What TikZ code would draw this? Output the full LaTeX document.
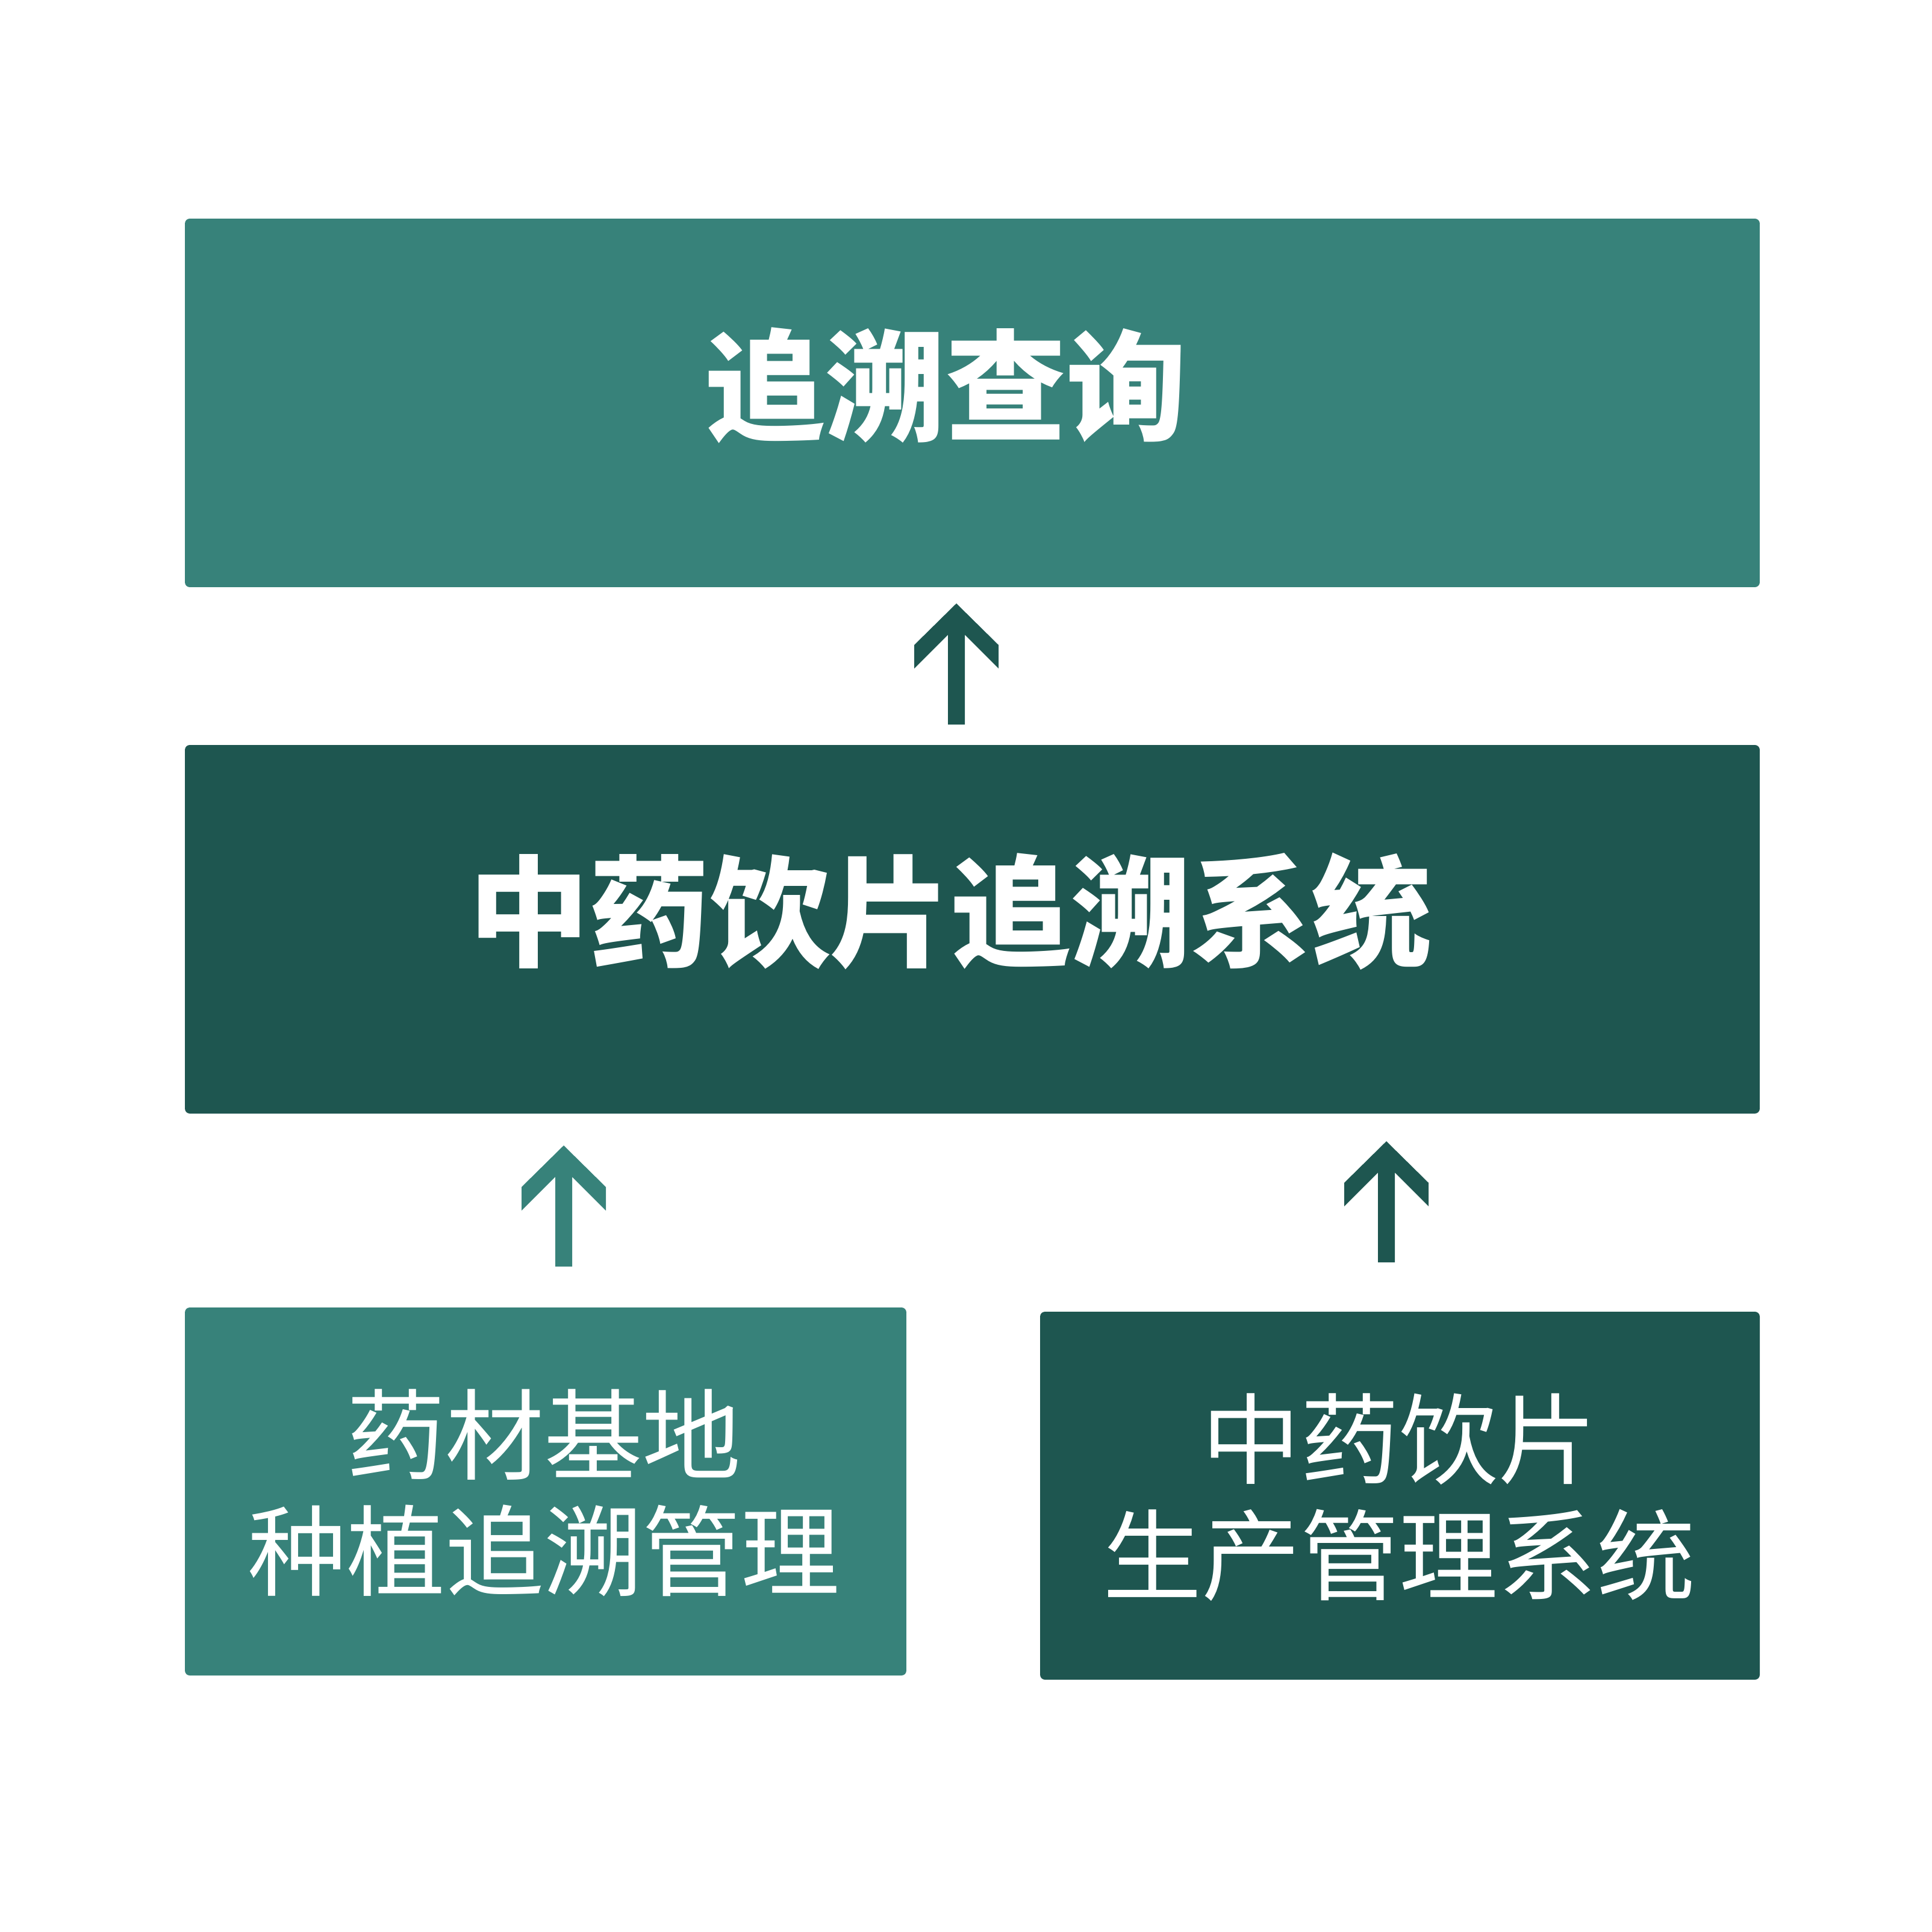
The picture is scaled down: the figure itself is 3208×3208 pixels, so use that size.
\documentclass[tikz,border=0pt]{standalone}
\usepackage{fontspec}
\newfontfamily\cjk{Noto Sans CJK SC}
\definecolor{tealbox}{RGB}{55,130,122}
\definecolor{darkbox}{RGB}{30,86,80}
\newcommand\chevarrow[2]{\fill[#2] (#1) -- ++(70,69) -- ++(0,39) -- ++(-56,-56) -- ++(0,149) -- ++(-28,0) -- ++(0,-149) -- ++(-56,56) -- ++(0,-39) -- cycle;}
\begin{document}
\begin{tikzpicture}[x=0.1pt,y=-0.1pt,
  box/.style={rectangle, draw=none, inner sep=0pt, rounded corners=0.8pt},
  bigtext/.style={text=white, inner sep=0pt, font=\cjk\bfseries\fontsize{20}{24}\selectfont},
  smalltext/.style={text=white, inner sep=0pt, align=center, font=\cjk\fontsize{16.4}{19.3}\selectfont}]
\fill[white] (0,0) rectangle (3208,3208);
\useasboundingbox (0,0) rectangle (3208,3208);
\node[box, fill=tealbox, minimum width=261.5pt, minimum height=61.2pt] (top) at (1614.5,669) {};
\node[box, fill=darkbox, minimum width=261.5pt, minimum height=61.2pt] (mid) at (1614.5,1543) {};
\node[box, fill=tealbox, minimum width=119.8pt, minimum height=61.1pt] (bl) at (906,2476.5) {};
\node[box, fill=darkbox, minimum width=119.5pt, minimum height=61.1pt] (br) at (2324.5,2483.5) {};
\node[bigtext] (toptext) at (1570,640) {追溯查询};
\node[bigtext] (midtext) at (1578,1513) {中药饮片追溯系统};
\node[smalltext] (bltext) at (903,2479) {药材基地\\种植追溯管理};
\node[smalltext] (brtext) at (2323,2486) {中药饮片\\生产管理系统};
\coordinate (a1) at (1588,1002);
\coordinate (a2) at (936,1902);
\coordinate (a3) at (2302,1895);
\chevarrow{a1}{darkbox}
\chevarrow{a2}{tealbox}
\chevarrow{a3}{darkbox}
\end{tikzpicture}
\end{document}
